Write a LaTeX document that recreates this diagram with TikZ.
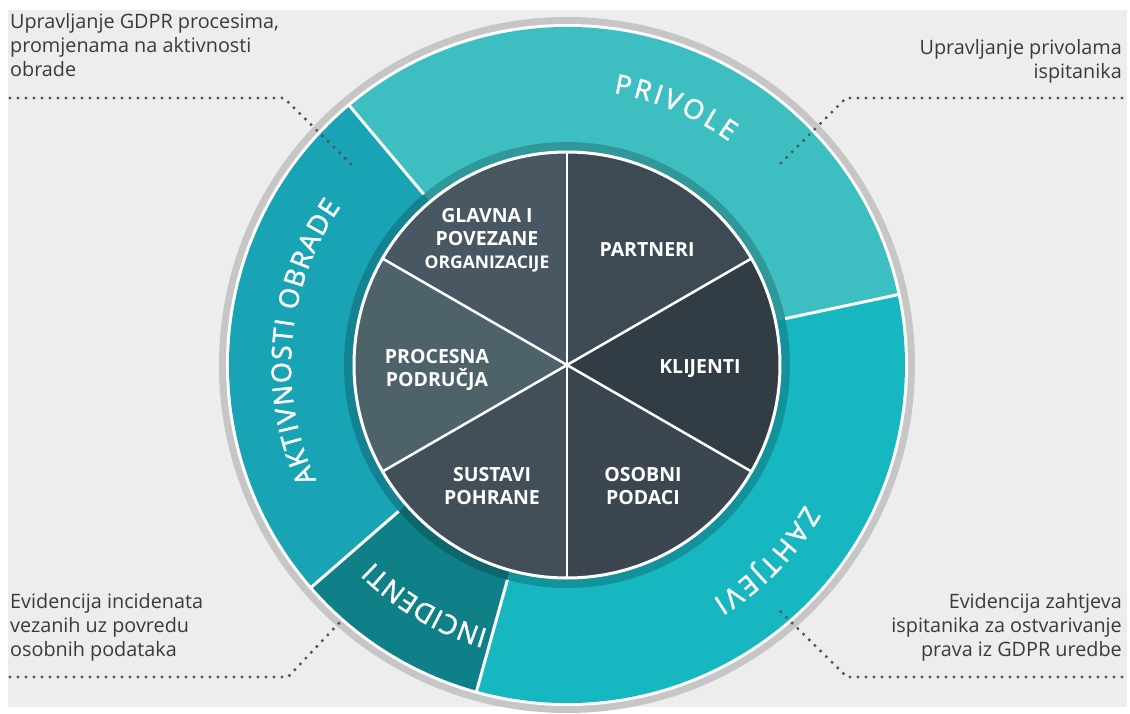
\documentclass[tikz,border=0pt]{standalone}
\usepackage{fontspec}
\setmainfont{Open Sans}
\newfontfamily\ringfont[FakeBold=1.6]{Open Sans}
\usetikzlibrary{decorations.text}

\definecolor{bgpaper}{HTML}{EDEDED}
\definecolor{rimgray}{HTML}{C6C6C6}
\definecolor{segprivole}{HTML}{3DBFC2}
\definecolor{segaktiv}{HTML}{19A4B6}
\definecolor{segincid}{HTML}{0F8088}
\definecolor{segzahtj}{HTML}{17B7C1}
\definecolor{pieglavna}{HTML}{485761}
\definecolor{piepartner}{HTML}{3E4A53}
\definecolor{pieklijent}{HTML}{323C45}
\definecolor{pieosobni}{HTML}{3B4650}
\definecolor{piesustav}{HTML}{434F58}
\definecolor{pieproces}{HTML}{4E6369}
\definecolor{annotext}{HTML}{3A3A3A}
\definecolor{leaderdot}{HTML}{4F565B}

% ring font with a kern before every letter (letter spacing)
\newcommand\ringtext[1]{\ringfont\fontsize{27}{27}\selectfont\kern#1pt}

\tikzset{
  annot/.style={inner sep=0pt, font=\fontsize{19.8}{24}\selectfont, text=annotext},
  pielabel/.style={inner sep=0pt, align=center, text=white, font=\bfseries\fontsize{19.5}{23}\selectfont},
  ringlabel/.style={decorate, decoration={text along path, text align=center, text color=white}},
  leader/.style={draw=leaderdot, line width=3.4pt, line cap=round, dash pattern=on 0pt off 8pt},
  sepline/.style={draw=white, line width=3pt}
}

\begin{document}
\begin{tikzpicture}[x=1pt,y=1pt]
        \useasboundingbox (-567,-348) rectangle (563,365);
        % Background
        \fill[bgpaper] (-559,-342) rectangle (560,355);
        % Outer rim
        \fill[rimgray] (0,0) circle[radius=348pt];
        \fill[white] (0,0) circle[radius=341pt];
        % Ring segments
        \fill[segprivole] (0,0) -- (12:338pt) arc[start angle=12, end angle=130, radius=338pt] -- cycle;
        \fill[segaktiv] (0,0) -- (130:338pt) arc[start angle=130, end angle=221, radius=338pt] -- cycle;
        \fill[segincid] (0,0) -- (221:338pt) arc[start angle=221, end angle=254.5, radius=338pt] -- cycle;
        \fill[segzahtj] (0,0) -- (254.5:338pt) arc[start angle=254.5, end angle=372, radius=338pt] -- cycle;
        \fill[black, opacity=0.2] (0,0) circle[radius=223pt];
        \foreach \a in {12,130,221,254.5}
          \draw[sepline] (\a:223pt) -- (\a:340pt);
        % Ring labels
        \path[ringlabel, decoration={text={|\ringtext{3.3}|PRIVOLE}}]
          (107.5:276pt) arc[start angle=107.5, end angle=27.5, radius=276pt];
        \path[ringlabel, decoration={text={|\ringtext{1.4}|AKTIVNOSTI OBRADE}}]
          (220:276pt) arc[start angle=220, end angle=130, radius=276pt];
        \path[ringlabel, decoration={text={|\ringtext{0.6}|INCIDENTI}}]
          (259.5:276pt) arc[start angle=259.5, end angle=219.5, radius=276pt];
        \path[ringlabel, decoration={text={|\ringtext{2.9}|ZAHTJEVI}}]
          (-14:276pt) arc[start angle=-14, end angle=-74, radius=276pt];
        % Inner pie
        \foreach \a/\c in {90/pieglavna,30/piepartner,-30/pieklijent,-90/pieosobni,-150/piesustav,150/pieproces}
          \fill[\c] (0,0) -- (\a:213pt) arc[start angle=\a, delta angle=60, radius=213pt] -- cycle;
        \foreach \a in {30,90,...,330}
          \draw[white, line width=2.5pt] (0,0) -- (\a:213pt);
        \draw[white, line width=3pt] (0,0) circle[radius=213pt];
        % Pie labels
        \node[pielabel] (glavna) at (-80,125) {GLAVNA I\\POVEZANE\\{\fontsize{17.5}{23}\selectfont ORGANIZACIJE}};
        \node[pielabel] (partneri) at (80,115) {PARTNERI};
        \node[pielabel] (klijenti) at (133,-4) {KLIJENTI};
        \node[pielabel] (procesna) at (-130,-5) {PROCESNA\\PODRUČJA};
        \node[pielabel] (sustavi) at (-75,-121) {SUSTAVI\\POHRANE};
        \node[pielabel] (osobni) at (76,-121) {OSOBNI\\PODACI};
        % Notes in the corners
        \node[annot, anchor=north west, align=left] (noteobrada) at (-557,352)
          {Upravljanje GDPR procesima,\\promjenama na aktivnosti\\obrade};
        \node[annot, anchor=north east, align=right] (noteprivole) at (555,326)
          {Upravljanje privolama\\ispitanika};
        \node[annot, anchor=north west, align=left] (noteincid) at (-557,-228)
          {Evidencija incidenata\\vezanih uz povredu\\osobnih podataka};
        \node[annot, anchor=north east, align=right] (notezahtj) at (555,-228)
          {Evidencija zahtjeva\\ispitanika za ostvarivanje\ \\prava iz GDPR uredbe};
        % Leaders
        \coordinate (tl0) at (-557,267);
        \coordinate (tl1) at (-283,267);
        \coordinate (tl2) at (-214,199);
        \coordinate (tr0) at (555,267);
        \coordinate (tr1) at (279,267);
        \coordinate (tr2) at (212,200);
        \coordinate (bl0) at (-557,-312);
        \coordinate (bl1) at (-279,-312);
        \coordinate (bl2) at (-227,-257);
        \coordinate (br0) at (555,-312);
        \coordinate (br1) at (280,-312);
        \coordinate (br2) at (212,-245);
        \draw[leader] (tl0) -- (tl1) -- (tl2);
        \draw[leader] (tr0) -- (tr1) -- (tr2);
        \draw[leader] (bl0) -- (bl1) -- (bl2);
        \draw[leader] (br0) -- (br1) -- (br2);
\end{tikzpicture}
\end{document}
